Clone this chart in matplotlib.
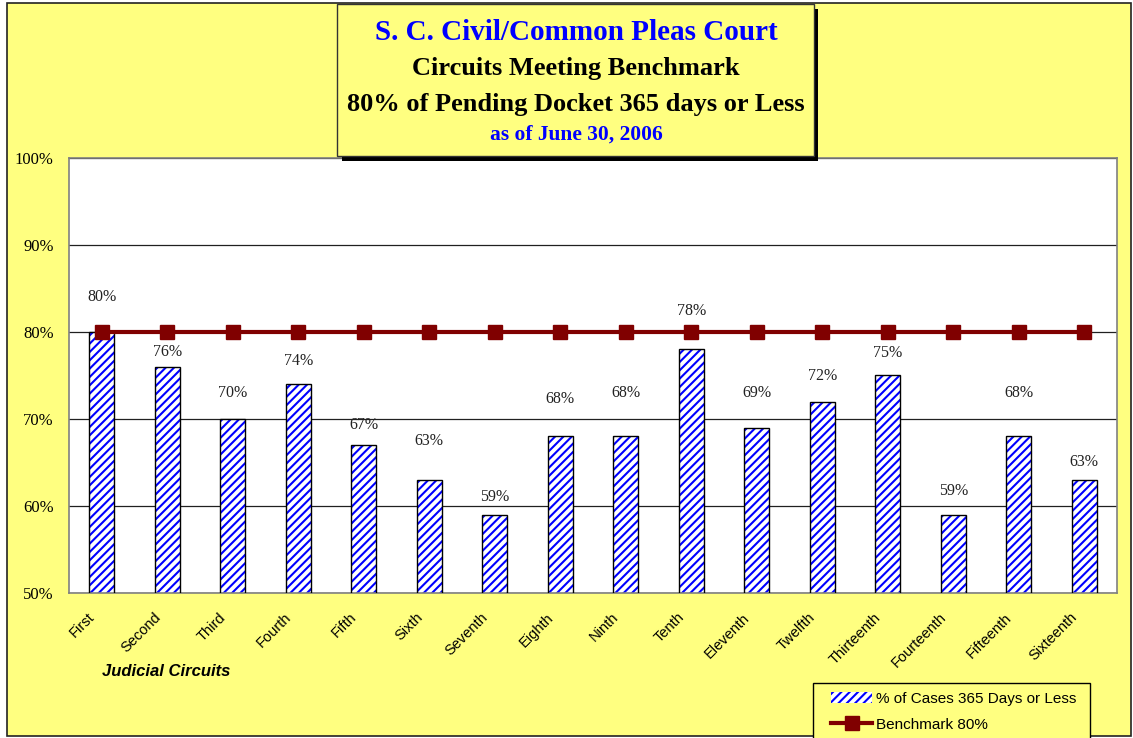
import matplotlib.pyplot as plt
from matplotlib.patches import Rectangle, Patch
from matplotlib.lines import Line2D
from matplotlib.transforms import ScaledTranslation
import numpy as np

circuits = ['First', 'Second', 'Third', 'Fourth', 'Fifth', 'Sixth', 'Seventh', 'Eighth',
            'Ninth', 'Tenth', 'Eleventh', 'Twelfth', 'Thirteenth', 'Fourteenth', 'Fifteenth', 'Sixteenth']
pct_365 = [80, 76, 70, 74, 67, 63, 59, 68, 68, 78, 69, 72, 75, 59, 68, 63]
benchmark = [80] * 16
y_ticks = [50, 60, 70, 80, 90, 100]

# how high each value label sits above its bar (pixels), as in the original
label_lift = [35, 15, 26, 23, 20, 39, 18, 37, 43, 38, 35, 26, 22, 24, 43, 18]

W, H = 1133, 738
yellow = '#FFFF80'
serif = 'Liberation Serif'
sans = 'Liberation Sans'
plt.rcParams['hatch.linewidth'] = 1.5

fig = plt.figure(figsize=(W / 100, H / 100), dpi=100, facecolor='white')

# outer yellow panel
fig.patches.append(Rectangle((7 / W, 1 - 736 / H), (1131 - 7) / W, (736 - 3) / H,
                             transform=fig.transFigure, facecolor=yellow,
                             edgecolor='#222222', linewidth=1.2, zorder=-1))

ax = fig.add_axes([69 / W, 1 - 593 / H, (1117 - 69) / W, (593 - 158) / H])
ax.set_facecolor('white')

x = np.arange(len(circuits))
# hatch in blue, outline in black
ax.bar(x, pct_365, width=0.38, color='white', edgecolor='#0000FF', hatch='////',
       linewidth=0, zorder=2)
ax.bar(x, pct_365, width=0.38, fill=False, edgecolor='black', linewidth=1.0, zorder=3)
ax.plot(x, benchmark, color='#800000', linewidth=3, marker='s', markersize=10, zorder=4)

for xi, v, lift in zip(x, pct_365, label_lift):
    ax.annotate(f'{v}%', (xi, v), xytext=(0, lift * 0.72), textcoords='offset points',
                ha='center', va='center', fontsize=11.5, family=serif, color='#222222')

ax.set_xlim(-0.5, len(circuits) - 0.5)
ax.set_ylim(50, 100)
ax.set_yticks(y_ticks)
ax.set_yticklabels([f'{t}%' for t in y_ticks], family=serif, fontsize=12)
ax.yaxis.grid(True, color='#202020', linewidth=0.9, zorder=1)
ax.set_axisbelow(True)
ax.tick_params(axis='y', length=0, pad=11)
ax.tick_params(axis='x', length=0, pad=6)
ax.set_xticks(x)
ax.set_xticklabels(circuits, rotation=45, ha='right', rotation_mode='anchor',
                   family=sans, fontsize=10.5)
shift = ScaledTranslation(-14 / 100, -9 / 100, fig.dpi_scale_trans)
for lab in ax.get_xticklabels():
    lab.set_transform(lab.get_transform() + shift)
for s in ax.spines.values():
    s.set_color('#808080')
    s.set_linewidth(1.2)

fig.text(166 / W, 1 - 671 / H, 'Judicial Circuits', ha='center', va='center',
         family=sans, fontsize=12, fontweight='bold', fontstyle='italic')

# title box with shadow
fig.patches.append(Rectangle((342 / W, 1 - 161 / H), (818 - 342) / W, (161 - 9) / H,
                             transform=fig.transFigure, facecolor='black',
                             edgecolor='none', zorder=5))
fig.patches.append(Rectangle((337 / W, 1 - 156 / H), (814 - 337) / W, (156 - 4) / H,
                             transform=fig.transFigure, facecolor=yellow,
                             edgecolor='#333333', linewidth=1, zorder=6))
cx = 576 / W
fig.text(cx, 1 - 33 / H, 'S. C. Civil/Common Pleas Court', ha='center', va='center',
         family=serif, fontsize=21, fontweight='bold', color='#0000FF', zorder=7)
fig.text(cx, 1 - 69 / H, 'Circuits Meeting Benchmark', ha='center', va='center',
         family=serif, fontsize=19, fontweight='bold', color='black', zorder=7)
fig.text(cx, 1 - 105 / H, '80% of Pending Docket 365 days or Less', ha='center', va='center',
         family=serif, fontsize=19, fontweight='bold', color='black', zorder=7)
fig.text(cx, 1 - 135 / H, 'as of June 30, 2006', ha='center', va='center',
         family=serif, fontsize=15.5, fontweight='bold', color='#0000FF', zorder=7)

# legend: own frame, legend drawn without frame inside it
fig.patches.append(Rectangle((813 / W, 1 - 740 / H), (1090 - 813) / W, (740 - 683) / H,
                             transform=fig.transFigure, facecolor=yellow,
                             edgecolor='black', linewidth=1, zorder=5))
handles = [Patch(facecolor='white', edgecolor='#0000FF', hatch='////', linewidth=0),
           Line2D([], [], color='#800000', linewidth=3, marker='s', markersize=10)]
leg = fig.legend(handles, ['% of Cases 365 Days or Less', 'Benchmark 80%'],
                 loc='upper left', bbox_to_anchor=(828 / W, 1 - 689 / H), borderaxespad=0,
                 prop={'family': sans, 'size': 11}, frameon=False,
                 handlelength=2.7, handletextpad=0.25, borderpad=0.2, labelspacing=0.75)
leg.set_zorder(6)

fig.savefig('out.png', dpi=100, facecolor='white')
